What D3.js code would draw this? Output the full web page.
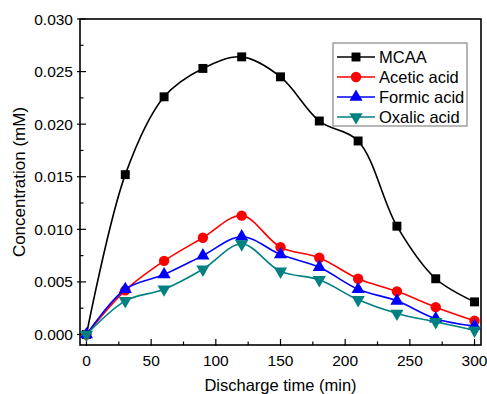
<!DOCTYPE html>
<html>
<head>
<meta charset="utf-8">
<script src="https://cdn.jsdelivr.net/npm/d3@7"></script>
<style>
  body { margin: 0; background: #fff; }
  text { font-family: "Liberation Sans", Arial, sans-serif; }
</style>
</head>
<body>
<script>
var width = 487, height = 394;

// data
var times = [0, 30, 60, 90, 120, 150, 180, 210, 240, 270, 300];
var mcaa    = [0, 0.0152, 0.0226, 0.0253, 0.0264, 0.0245, 0.0203, 0.0184, 0.0103, 0.0053, 0.0031];
var acetic  = [0, 0.0042, 0.0070, 0.0092, 0.0113, 0.0083, 0.0073, 0.0053, 0.0041, 0.0026, 0.0013];
var formic  = [0, 0.0043, 0.0057, 0.0075, 0.0093, 0.0076, 0.0064, 0.0043, 0.0032, 0.0015, 0.0008];
var oxalic  = [0, 0.0032, 0.0043, 0.0062, 0.0086, 0.0060, 0.0052, 0.0033, 0.0020, 0.0012, 0.0004];
var seriesNames = ["MCAA", "Acetic acid", "Formic acid", "Oxalic acid"];
var xTicks = [0, 50, 100, 150, 200, 250, 300];
var yTicks = [0, 0.005, 0.010, 0.015, 0.020, 0.025, 0.030];

var series = [
  { name: seriesNames[0], values: mcaa,   color: "#000000", symbol: d3.symbolSquare,   size: 80,  rot: 0 },
  { name: seriesNames[1], values: acetic, color: "#ff0000", symbol: d3.symbolCircle,   size: 85,  rot: 0 },
  { name: seriesNames[2], values: formic, color: "#0000ff", symbol: d3.symbolTriangle, size: 75,  rot: 0 },
  { name: seriesNames[3], values: oxalic, color: "#008080", symbol: d3.symbolTriangle, size: 75,  rot: 180 }
];

var pLeft = 80, pRight = 481, pTop = 19, pBottom = 345;

var svg = d3.select("body").append("svg")
    .attr("width", width)
    .attr("height", height);

var x = d3.scaleLinear().domain([-5, 305]).range([pLeft, pRight]);
var y = d3.scaleLinear().domain([-0.001, 0.030]).range([pBottom, pTop]);

// minor ticks, inward
var xMinor = d3.range(25, 300, 50);
var yMinor = d3.range(0.0025, 0.030, 0.005);

var ax = svg.append("g");
ax.selectAll(".xminor").data(xMinor).enter().append("line")
    .attr("x1", d => x(d)).attr("x2", d => x(d))
    .attr("y1", pBottom).attr("y2", pBottom - 3.5)
    .attr("stroke", "#000").attr("stroke-width", 1.2);
ax.selectAll(".xmajor").data(xTicks).enter().append("line")
    .attr("x1", d => x(d)).attr("x2", d => x(d))
    .attr("y1", pBottom + 1).attr("y2", pBottom - 6)
    .attr("stroke", "#000").attr("stroke-width", 1.2);
ax.selectAll(".yminor").data(yMinor).enter().append("line")
    .attr("x1", pLeft).attr("x2", pLeft + 3.5)
    .attr("y1", d => y(d)).attr("y2", d => y(d))
    .attr("stroke", "#000").attr("stroke-width", 1.2);
ax.selectAll(".ymajor").data(yTicks).enter().append("line")
    .attr("x1", pLeft - 3).attr("x2", pLeft + 6)
    .attr("y1", d => y(d)).attr("y2", d => y(d))
    .attr("stroke", "#000").attr("stroke-width", 1.2);

ax.selectAll(".xlab").data(xTicks).enter().append("text")
    .attr("x", d => x(d)).attr("y", 366)
    .attr("text-anchor", "middle")
    .style("font-size", "15.5px")
    .text(d => d);
ax.selectAll(".ylab").data(yTicks).enter().append("text")
    .attr("x", 73).attr("y", d => y(d) + 5.5)
    .attr("text-anchor", "end")
    .style("font-size", "15.5px")
    .text(d => d3.format(".3f")(d));

// frame
svg.append("rect")
    .attr("x", pLeft).attr("y", pTop)
    .attr("width", pRight - pLeft).attr("height", pBottom - pTop)
    .attr("fill", "none").attr("stroke", "#000").attr("stroke-width", 1.6);

// axis titles
svg.append("text")
    .attr("x", (pLeft + pRight) / 2).attr("y", 391)
    .attr("text-anchor", "middle")
    .style("font-size", "16.5px")
    .text("Discharge time (min)");
svg.append("text")
    .attr("transform", "translate(25," + ((pTop + pBottom) / 2) + ") rotate(-90)")
    .attr("text-anchor", "middle")
    .style("font-size", "17px")
    .text("Concentration (mM)");

var line = d3.line()
    .x((d, i) => x(times[i]))
    .y(d => y(d))
    .curve(d3.curveCatmullRom.alpha(0.5));

var g = svg.append("g");
series.forEach(function(s) {
  var sg = g.append("g");
  sg.append("path")
      .attr("d", line(s.values))
      .attr("fill", "none")
      .attr("stroke", s.color)
      .attr("stroke-width", 1.6);
  sg.selectAll("path.pt").data(s.values).enter().append("path")
      .attr("class", "pt")
      .attr("d", d3.symbol().type(s.symbol).size(s.size))
      .attr("transform", (d, i) => "translate(" + x(times[i]) + "," + y(d) + ") rotate(" + s.rot + ")")
      .attr("fill", s.color);
});

// legend
var lg = svg.append("g");
lg.append("rect")
    .attr("x", 333).attr("y", 43)
    .attr("width", 134).attr("height", 83)
    .attr("fill", "#fff").attr("stroke", "#888").attr("stroke-width", 1.2);
series.forEach(function(s, i) {
  var yy = 57 + i * 20;
  lg.append("line")
      .attr("x1", 337).attr("x2", 375)
      .attr("y1", yy).attr("y2", yy)
      .attr("stroke", s.color).attr("stroke-width", 1.6);
  lg.append("path")
      .attr("d", d3.symbol().type(s.symbol).size(s.size))
      .attr("transform", "translate(356," + yy + ") rotate(" + s.rot + ")")
      .attr("fill", s.color);
  lg.append("text")
      .attr("x", 379).attr("y", yy + 6)
      .style("font-size", "16.5px")
      .text(s.name);
});
</script>
</body>
</html>
